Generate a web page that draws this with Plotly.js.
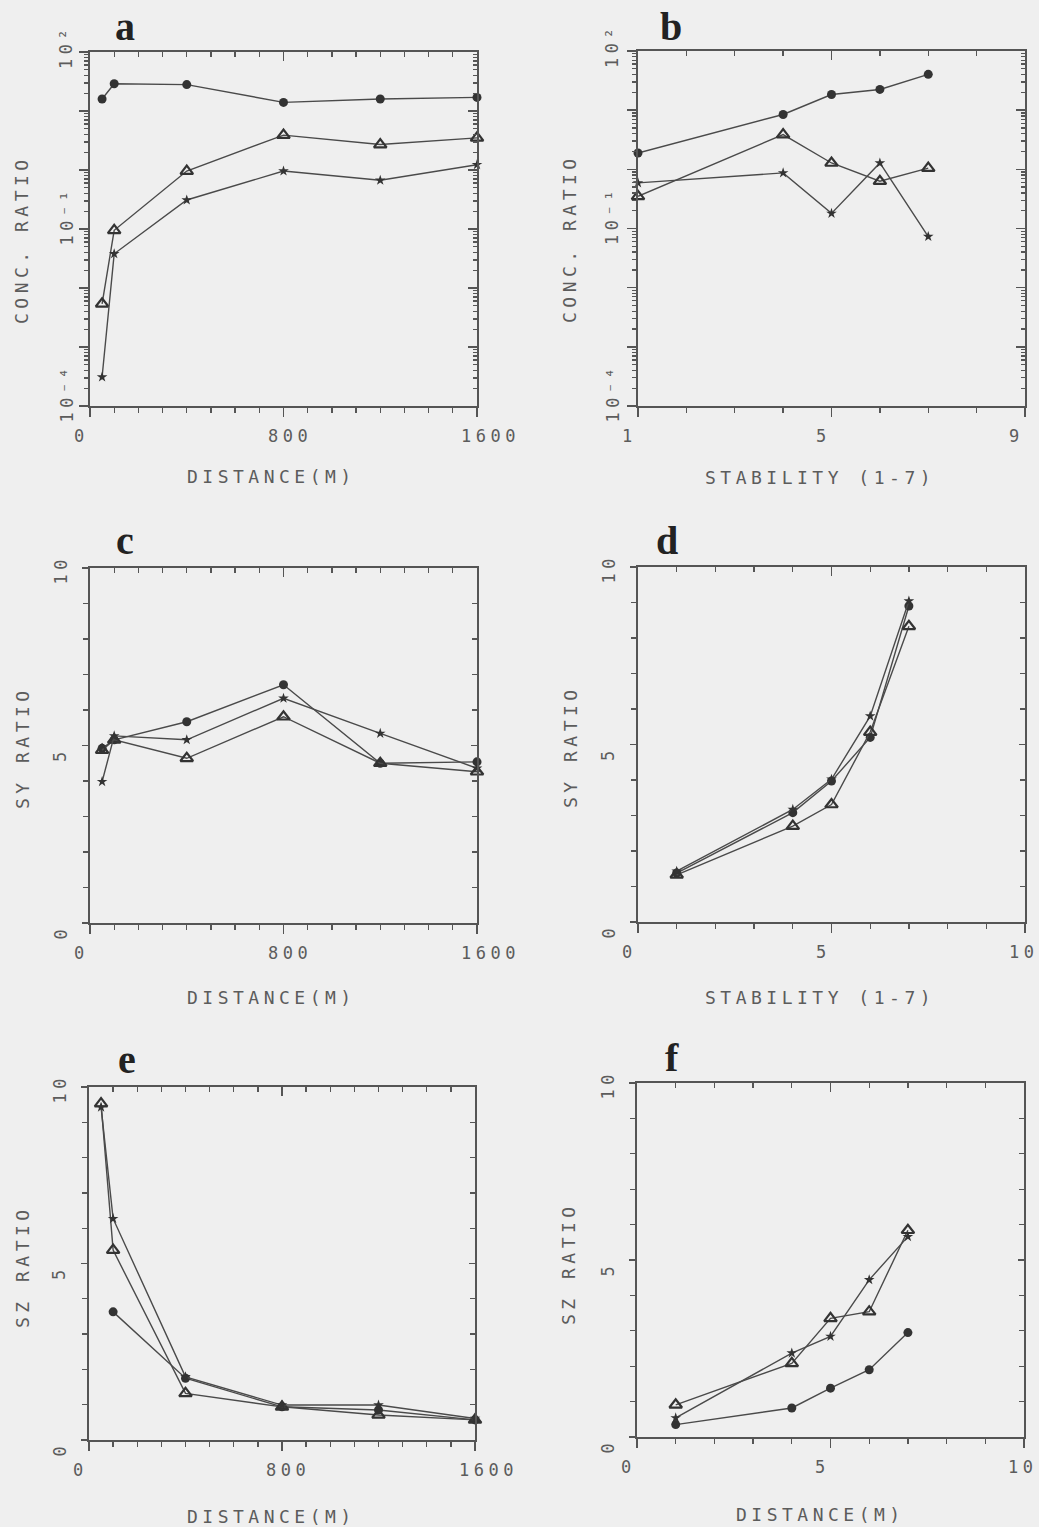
<!DOCTYPE html>
<html><head><meta charset="utf-8">
<script src="https://cdn.plot.ly/plotly-3.0.1.min.js"></script>
<style>
html,body{margin:0;padding:0;background:#efefef;}
.annotation-text:not([style*="Serif"]){letter-spacing:4.5px;}
</style>
</head><body><div id="chart" style="width:1039px;height:1527px;"></div>
<script>
// ---------------- data ----------------
const distance = [50, 100, 400, 800, 1200, 1600];
const stability = [1, 4, 5, 6, 7];

// a: concentration ratio vs distance (log)
const concDistCircle   = [16, 29, 28, 14, 16, 17];
const concDistTriangle = [0.0054, 0.095, 0.96, 3.9, 2.7, 3.5];
const concDistStar     = [0.00031, 0.038, 0.31, 0.96, 0.67, 1.23];
// b: concentration ratio vs stability (log)
const concStabCircle   = [1.89, 8.45, 18.4, 22.4, 40.3];
const concStabTriangle = [0.35, 3.87, 1.28, 0.63, 1.05];
const concStabStar     = [0.59, 0.87, 0.18, 1.28, 0.073];
// c: SY ratio vs distance
const syDistCircle   = [4.92, 5.16, 5.67, 6.71, 4.50, 4.54];
const syDistTriangle = [4.87, 5.16, 4.64, 5.81, 4.50, 4.26];
const syDistStar     = [3.98, 5.27, 5.16, 6.33, 5.34, 4.36];
// d: SY ratio vs stability
const syStabCircle   = [1.38, 3.08, 3.97, 5.20, 8.90];
const syStabTriangle = [1.33, 2.70, 3.31, 5.35, 8.33];
const syStabStar     = [1.43, 3.17, 4.02, 5.80, 9.04];
// e: SZ ratio vs distance
const szDistCircle   = [null, 3.63, 1.75, 0.94, 0.85, 0.57];
const szDistTriangle = [9.53, 5.38, 1.32, 0.94, 0.71, 0.57];
const szDistStar     = [9.43, 6.27, 1.79, 0.99, 0.99, 0.61];
// f: SZ ratio vs stability class
const szStabCircle   = [0.35, 0.82, 1.38, 1.90, 2.95];
const szStabTriangle = [0.91, 2.08, 3.35, 3.54, 5.84];
const szStabStar     = [0.54, 2.37, 2.84, 4.44, 5.66];

const panelLetters = ['a', 'b', 'c', 'd', 'e', 'f'];
const xTitles = ['DISTANCE(M)', 'STABILITY (1-7)', 'DISTANCE(M)', 'STABILITY (1-7)', 'DISTANCE(M)', 'DISTANCE(M)'];
const yTitles = ['CONC. RATIO', 'CONC. RATIO', 'SY RATIO', 'SY RATIO', 'SZ RATIO', 'SZ RATIO'];

const distTickVals = [0, 800, 1600];
const distTickText = ['0', '800', '1600'];
const stabTickValsB = [1, 5, 9];
const stabTickTextB = ['1', '5', '9'];
const stabTickVals10 = [0, 5, 10];
const stabTickText10 = ['0', '5', '10'];
const concTickVals = [100, 0.1, 0.0001];
const concTickText = ['10\u00B2', '10\u207B\u00B9', '10\u207B\u2074'];
const ratioTickVals = [0, 5, 10];
const ratioTickText = ['0', '5', '10'];

// ---------------- layout config ----------------
const W = 1039, H = 1527;
const panels = [
  {l:90, r:477, t:52, b:406, x:distance, xr:[0,1600], x0:0, xmaj:800, xmin:100, xtv:distTickVals, xtt:distTickText,
   log:true, ytv:concTickVals, ytt:concTickText, ys:[concDistCircle, concDistTriangle, concDistStar],
   let:[125,39], xt:[271,477], yt:[22,240], ylx:24},
  {l:638, r:1025, t:51, b:406, x:stability, xr:[1,9], x0:1, xmaj:4, xmin:1, xtv:stabTickValsB, xtt:stabTickTextB,
   log:true, ytv:concTickVals, ytt:concTickText, ys:[concStabCircle, concStabTriangle, concStabStar],
   let:[671,39], xt:[820,478], yt:[570,239], ylx:26},
  {l:90, r:477, t:568, b:923, x:distance, xr:[0,1600], x0:0, xmaj:800, xmin:100, xtv:distTickVals, xtt:distTickText,
   log:false, ytv:ratioTickVals, ytt:ratioTickText, ys:[syDistCircle, syDistTriangle, syDistStar],
   let:[125,553], xt:[271,997], yt:[22,748], ylx:30},
  {l:638, r:1025, t:567, b:922, x:stability, xr:[0,10], x0:0, xmaj:5, xmin:1, xtv:stabTickVals10, xtt:stabTickText10,
   log:false, ytv:ratioTickVals, ytt:ratioTickText, ys:[syStabCircle, syStabTriangle, syStabStar],
   let:[667,553], xt:[820,997], yt:[570,747], ylx:30},
  {l:89, r:475, t:1087, b:1440, x:distance, xr:[0,1600], x0:0, xmaj:800, xmin:100, xtv:distTickVals, xtt:distTickText,
   log:false, ytv:ratioTickVals, ytt:ratioTickText, ys:[szDistCircle, szDistTriangle, szDistStar],
   let:[127,1072], xt:[271,1516], yt:[22,1267], ylx:30},
  {l:637, r:1024, t:1083, b:1437, x:stability, xr:[0,10], x0:0, xmaj:5, xmin:1, xtv:stabTickVals10, xtt:stabTickText10,
   log:false, ytv:ratioTickVals, ytt:ratioTickText, ys:[szStabCircle, szStabTriangle, szStabStar],
   let:[672,1070], xt:[820,1514], yt:[568,1264], ylx:30}
];

const LINE = '#4a4a4a', AX = '#555555', TXT = '#5c5c5c';
const MONO = 'DejaVu Sans Mono, monospace';
const markerStyles = [
  {symbol:'circle', size:9, color:'#333', line:{width:0}},
  {symbol:'triangle-up-open', size:11, color:'#333', line:{width:2.2, color:'#333'}},
  {symbol:'star', size:8, color:'#333', line:{width:0}}
];

const px = v => v / W, py = v => 1 - v / H;
const key = n => n === 1 ? '' : String(n);

const data = [];
const layout = {
  width: W, height: H, margin:{l:0, r:0, t:0, b:0},
  paper_bgcolor:'#efefef', plot_bgcolor:'#efefef', showlegend:false,
  font:{family:MONO, color:TXT}, annotations:[]
};

panels.forEach((p, i) => {
  const xb = 2*i+1, xtop = 2*i+2, yl = 2*i+1, yr = 2*i+2;
  const dom = {x:[px(p.l), px(p.r)], y:[py(p.b), py(p.t)]};
  const common = {showgrid:false, zeroline:false, showline:true, linecolor:AX, linewidth:1.6,
                  tickcolor:AX, tickwidth:1.5, showticklabels:false, fixedrange:true};
  const xcfg = {type:'linear', range:p.xr, tickmode:'linear', tick0:p.x0, dtick:p.xmaj};
  layout['xaxis'+key(xb)] = Object.assign({}, common, xcfg, {domain:dom.x, anchor:'y'+key(yl),
     ticks:'outside', ticklen:9, minor:{tickmode:'linear', tick0:p.x0, dtick:p.xmin, ticks:'outside', ticklen:5, tickcolor:AX, tickwidth:1.3}});
  layout['xaxis'+key(xtop)] = Object.assign({}, common, xcfg, {overlaying:'x'+key(xb), anchor:'y'+key(yl), side:'top',
     ticks:'inside', ticklen:9, minor:{tickmode:'linear', tick0:p.x0, dtick:p.xmin, ticks:'inside', ticklen:5, tickcolor:AX, tickwidth:1.3}});
  let ycfg;
  if (p.log) {
    ycfg = {type:'log', range:[-4, 2], tickmode:'linear', tick0:0, dtick:1};
  } else {
    ycfg = {type:'linear', range:[0, 10], tickmode:'linear', tick0:0, dtick:5};
  }
  const yminor = p.log ? {dtick:'D1'} : {tickmode:'linear', tick0:0, dtick:1};
  layout['yaxis'+key(yl)] = Object.assign({}, common, ycfg, {domain:dom.y, anchor:'x'+key(xb),
     ticks:'outside', ticklen:p.log ? 9 : 6, minor:Object.assign({ticks:'outside', ticklen:p.log ? 4 : 5, tickcolor:AX, tickwidth:1.3}, yminor)});
  layout['yaxis'+key(yr)] = Object.assign({}, common, ycfg, {overlaying:'y'+key(yl), anchor:'x'+key(xb), side:'right',
     ticks:'inside', ticklen:p.log ? 9 : 6, minor:Object.assign({ticks:'inside', ticklen:p.log ? 4 : 5, tickcolor:AX, tickwidth:1.3}, yminor)});

  p.ys.forEach((ys, s) => {
    data.push({type:'scatter', mode:'lines+markers', x:p.x, y:ys,
      xaxis:'x'+key(xb), yaxis:'y'+key(yl), connectgaps:false, cliponaxis:false,
      line:{color:LINE, width:1.4}, marker:markerStyles[s], hoverinfo:'x+y'});
  });
  // empty traces so the mirrored top / right frame axes are drawn
  data.push({type:'scatter', mode:'lines', x:[], y:[], xaxis:'x'+key(xtop), yaxis:'y'+key(yl), hoverinfo:'skip'});
  data.push({type:'scatter', mode:'lines', x:[], y:[], xaxis:'x'+key(xb), yaxis:'y'+key(yr), hoverinfo:'skip'});

  // panel letter
  layout.annotations.push({xref:'paper', yref:'paper', x:px(p.let[0]), y:py(p.let[1]-13), xanchor:'center', yanchor:'middle',
    text:panelLetters[i], showarrow:false, font:{family:'Liberation Serif, serif', size:40, color:'#222', weight:'bold'}});
  // axis titles
  layout.annotations.push({xref:'paper', yref:'paper', x:px(p.xt[0]), y:py(p.xt[1]), xanchor:'center', yanchor:'middle',
    text:xTitles[i], showarrow:false, font:{family:MONO, size:18, color:TXT}});
  layout.annotations.push({xref:'paper', yref:'paper', x:px(p.yt[0]), y:py(p.yt[1]), xanchor:'center', yanchor:'middle',
    text:yTitles[i], textangle:-90, showarrow:false, font:{family:MONO, size:18, color:TXT}});
  // x tick labels
  p.xtv.forEach((v, k) => {
    layout.annotations.push({xref:'x'+key(xb), yref:'paper', x:v, y:py(p.b+30), xanchor:'left', yanchor:'middle', xshift:-18,
      text:p.xtt[k], showarrow:false, font:{family:MONO, size:17, color:TXT}});
  });
  // y tick labels (rotated)
  p.ytv.forEach((v, k) => {
    layout.annotations.push({xref:'paper', yref:'y'+key(yl), x:px(p.l - p.ylx), y:p.log ? Math.log10(v) : v,
      xanchor:'center', yanchor:'bottom', yshift:-19, textangle:-90,
      text:p.ytt[k], showarrow:false, font:{family:MONO, size:17, color:TXT}});
  });
});

Plotly.newPlot('chart', data, layout, {staticPlot:true, displayModeBar:false});
</script>
</body></html>
